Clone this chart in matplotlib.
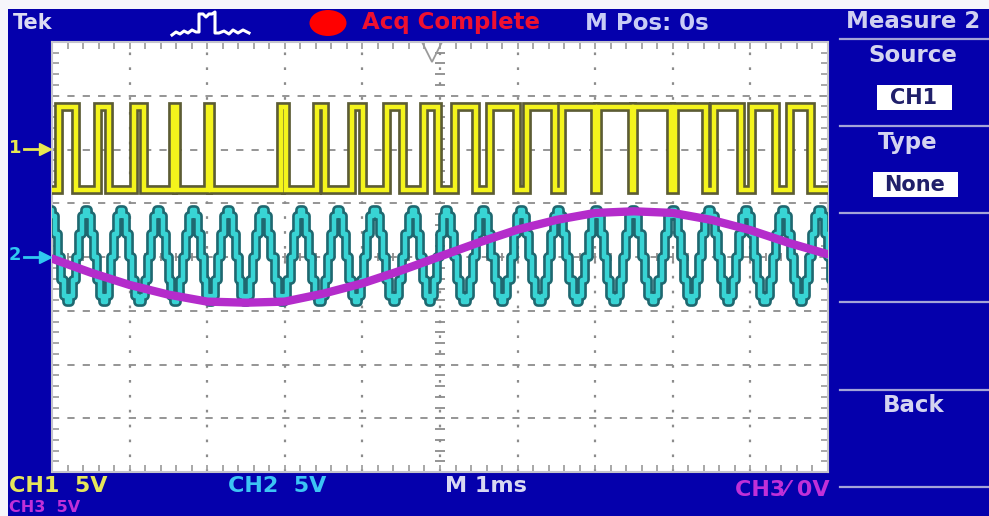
import matplotlib
matplotlib.use('Agg')
import matplotlib.pyplot as plt
import matplotlib.patheffects as pe
from matplotlib.patches import Rectangle, Ellipse
from matplotlib.lines import Line2D
import numpy as np

W, H = 989, 516

# ---------------- data (time in ms, amplitude in divisions) ----------------
CH1_RISE = [-4.907, -4.412, -3.939, -3.446, -2.985, -2.054, -1.582, -1.133, -0.682, -0.211,
            0.198, 0.648, 1.120, 1.570, 2.041, 2.504, 3.031, 3.526, 4.021, 4.514]
CH1_FALL = [-4.693, -4.264, -3.814, -3.384, -2.945, -1.982, -1.488, -0.994, -0.477, -0.026,
            0.468, 0.986, 1.479, 1.997, 2.478, 2.982, 3.433, 3.884, 4.334, 4.785]
CH1_HIGH = 2.79
CH1_LOW = 1.25

CH2_PEAKS = [-5.026, -4.553, -4.102, -3.630, -3.179, -2.728, -2.277, -1.782, -1.311, -0.838,
             -0.344, 0.086, 0.558, 1.053, 1.524, 2.019, 2.491, 3.006, 3.479, 3.952, 4.424,
             4.897, 5.370]
CH2_PEAK_LEVEL = 0.87
CH2_TROUGH_LEVEL = -0.84
CH2_CYCLE_SHAPE = [1.0, 0.87, 0.5, 0.0, -0.5, -0.87, -1.0, -0.87, -0.5, 0.0, 0.5, 0.87]

CH3_T = [-5.0, -4.5, -4.0, -3.5, -3.0, -2.5, -2.0, -1.5, -1.0, -0.5, 0.0,
         0.5, 1.0, 1.5, 2.0, 2.5, 3.0, 3.5, 4.0, 4.5, 5.0]
CH3_V = [-0.03, -0.29, -0.52, -0.70, -0.83, -0.85, -0.83, -0.68, -0.49, -0.25, 0.01,
         0.27, 0.51, 0.69, 0.82, 0.85, 0.82, 0.69, 0.50, 0.26, 0.05]

TOP_TEXT = ["Tek", "Acq Complete", "M Pos: 0s", "Measure 2"]
MENU_TEXT = ["Source", "CH1", "Type", "None", "Back"]
BOTTOM_TEXT = ["CH1  5V", "CH2  5V", "M 1ms", "CH3\u2044 0V", "CH3  5V"]

# ---------------- figure ----------------
BLUE = '#0500ac'
fig = plt.figure(figsize=(W / 100, H / 100), dpi=100)
fig.patch.set_facecolor(BLUE)


def fx(x):
    return x / W


def fy(y):
    return 1 - y / H


# white border strips (top and left)
fig.add_artist(Rectangle((0, fy(9)), 1, 9 / H, transform=fig.transFigure,
                         facecolor='#f6f6fb', edgecolor='none', zorder=0))
fig.add_artist(Rectangle((0, 0), 8 / W, 1, transform=fig.transFigure,
                         facecolor='#f6f6fb', edgecolor='none', zorder=0))

FONT = dict(family='DejaVu Sans', weight='bold')

# top bar
fig.text(fx(13), fy(23), TOP_TEXT[0], color='#dcdcf2', fontsize=15, va='center', ha='left', **FONT)
fig.add_artist(Ellipse((fx(328), fy(23)), 37 / W, 26 / H, transform=fig.transFigure,
                       facecolor='#ff0000', edgecolor='none'))
fig.text(fx(362), fy(23), TOP_TEXT[1], color='#ee1030', fontsize=16.5, va='center', ha='left', **FONT)
fig.text(fx(585), fy(23), TOP_TEXT[2], color='#c8ccf6', fontsize=16.5, va='center', ha='left', **FONT)
fig.text(fx(913), fy(21), TOP_TEXT[3], color='#d0d0f0', fontsize=16.5, va='center', ha='center', **FONT)

# trigger-type icon (decoration)
icon_x = [172, 176, 180, 184, 188, 192, 196, 199, 199, 203, 206, 209, 212, 215, 215, 219, 224,
          229, 233, 238, 243, 249]
icon_y = [35, 32, 34, 31, 33, 30, 32, 32, 14, 14, 17, 14, 14, 12, 33, 33, 31, 34, 30, 33, 30, 33]
fig.add_artist(Line2D([fx(v) for v in icon_x], [fy(v) for v in icon_y], transform=fig.transFigure,
                      color='white', lw=2.2))

# right menu
for yl in [39, 126, 213, 302, 390, 487]:
    fig.add_artist(Line2D([fx(840), fx(989)], [fy(yl), fy(yl)], transform=fig.transFigure,
                          color='#a4a4d8', lw=1.6))
fig.text(fx(913), fy(55), MENU_TEXT[0], color='#d4d4f0', fontsize=16.5, va='center', ha='center', **FONT)
fig.add_artist(Rectangle((fx(877), fy(110)), 75 / W, 25 / H, transform=fig.transFigure,
                         facecolor='white', edgecolor='none'))
fig.text(fx(914), fy(98), MENU_TEXT[1], color='#20206a', fontsize=15, va='center', ha='center', **FONT)
fig.text(fx(908), fy(143), MENU_TEXT[2], color='#d4d4f0', fontsize=16.5, va='center', ha='center', **FONT)
fig.add_artist(Rectangle((fx(873), fy(197)), 85 / W, 25 / H, transform=fig.transFigure,
                         facecolor='white', edgecolor='none'))
fig.text(fx(915), fy(185), MENU_TEXT[3], color='#20206a', fontsize=15, va='center', ha='center', **FONT)
fig.text(fx(914), fy(405), MENU_TEXT[4], color='#d4d4f0', fontsize=16.5, va='center', ha='center', **FONT)

# bottom status line
fig.text(fx(9), fy(486), BOTTOM_TEXT[0], color='#e6e65a', fontsize=16, va='center', ha='left', **FONT)
fig.text(fx(228), fy(486), BOTTOM_TEXT[1], color='#3cc4f4', fontsize=16, va='center', ha='left', **FONT)
fig.text(fx(445), fy(486), BOTTOM_TEXT[2], color='#d8d8f2', fontsize=16, va='center', ha='left', **FONT)
fig.text(fx(735), fy(490), BOTTOM_TEXT[3], color='#c030d8', fontsize=16, va='center', ha='left', **FONT)
fig.text(fx(9), fy(508), BOTTOM_TEXT[4], color='#c030d8', fontsize=11.5, va='center', ha='left', **FONT)

# channel ground markers
fig.text(fx(9), fy(148), "1", color='#e8e850', fontsize=13, va='center', ha='left', **FONT)
fig.add_artist(Line2D([fx(24), fx(42)], [fy(149), fy(149)], transform=fig.transFigure,
                      color='#e8e850', lw=2))
fig.add_artist(Line2D([fx(45)], [fy(149)], transform=fig.transFigure, marker='>', ms=8,
                      color='#e8e850', ls='none'))
fig.text(fx(9), fy(255), "2", color='#30c8f0', fontsize=13, va='center', ha='left', **FONT)
fig.add_artist(Line2D([fx(24), fx(42)], [fy(257), fy(257)], transform=fig.transFigure,
                      color='#30c8f0', lw=2))
fig.add_artist(Line2D([fx(45)], [fy(257)], transform=fig.transFigure, marker='>', ms=8,
                      color='#30c8f0', ls='none'))

# ---------------- graticule ----------------
ax = fig.add_axes([fx(52), fy(472), 776 / W, 430 / H])
ax.set_facecolor('white')
ax.set_xlim(-5, 5)
ax.set_ylim(-4, 4)
GRID = '#8c8c8c'
for s in ax.spines.values():
    s.set_color('#c4c4cc')
    s.set_linewidth(1.5)
ax.set_xticks(np.arange(-5, 5.001, 0.2))
ax.set_yticks(np.arange(-4, 4.001, 0.2))
ax.tick_params(direction='in', length=5, width=1.2, color='#9a9a9a', top=True, bottom=True,
               left=True, right=True, labelbottom=False, labelleft=False)
for xv in range(-4, 5):
    ax.axvline(xv, color=GRID, lw=1.6, ls=(0, (1.2, 5.5)), zorder=1)
for yv in range(-3, 4):
    ax.axhline(yv, color=GRID, lw=1.3, ls=(0, (4, 4.5)), zorder=1)
minor_y = np.arange(-3.8, 3.81, 0.2)
minor_x = np.arange(-4.8, 4.81, 0.2)
ax.plot(np.zeros_like(minor_y), minor_y, ls='none', marker='_', ms=7, mew=1.3, color=GRID, zorder=1)
ax.plot(minor_x, np.zeros_like(minor_x), ls='none', marker='|', ms=6, mew=1.3, color=GRID, zorder=1)
ax.plot([-0.1], [3.82], marker='v', ms=15, mfc='none', mec='#9a9a9a', mew=1.3, ls='none',
        clip_on=False, zorder=2)

# ---------------- CH2 (cyan) ----------------
c_t, c_v = [], []
n = len(CH2_CYCLE_SHAPE)
for k in range(len(CH2_PEAKS) - 1):
    p0, p1 = CH2_PEAKS[k], CH2_PEAKS[k + 1]
    for i, s in enumerate(CH2_CYCLE_SHAPE):
        c_t.append(p0 + (p1 - p0) * i / n)
        c_v.append(s * (CH2_PEAK_LEVEL if s >= 0 else -CH2_TROUGH_LEVEL))
ax.plot(c_t, c_v, drawstyle='steps-mid', color='#38d4d4', lw=3.2, zorder=3,
        path_effects=[pe.Stroke(linewidth=7, foreground='#1f6870'), pe.Normal()])

# ---------------- CH3 (magenta) ----------------
ax.plot(CH3_T, CH3_V, color='#b42ccb', lw=6, zorder=4, solid_capstyle='round')

# ---------------- CH1 (yellow PWM) ----------------
y_t, y_v = [-5.2], [CH1_LOW]
for r, f in zip(CH1_RISE, CH1_FALL):
    y_t += [r, r, f, f]
    y_v += [CH1_LOW, CH1_HIGH, CH1_HIGH, CH1_LOW]
y_t.append(5.2)
y_v.append(CH1_LOW)
ax.plot(y_t, y_v, color='#f4f41c', lw=3.2, zorder=5, solid_joinstyle='miter',
        path_effects=[pe.Stroke(linewidth=7, foreground='#5c5c34'), pe.Normal()])

fig.savefig('out.png', dpi=100, facecolor=fig.get_facecolor())
